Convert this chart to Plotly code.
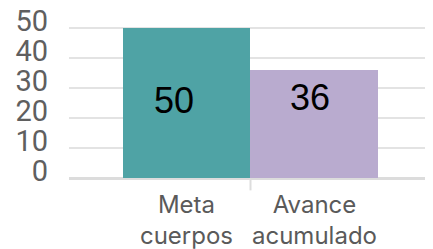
import plotly.graph_objects as go

categories = ["Meta<br>cuerpos", "Avance<br>acumulado"]
values = [50, 36]
bar_colors = ["#4fa3a5", "#b9abcf"]
y_ticks = [0, 10, 20, 30, 40, 50]

fig = go.Figure()
fig.add_trace(go.Bar(
    x=categories, y=values,
    marker=dict(color=bar_colors, line=dict(width=0)),
    hoverinfo="skip",
))

label_shift = [-12, -4]
label_y = [25.8, 26.8]
for c, v, dx, ly in zip(categories, values, label_shift, label_y):
    fig.add_annotation(x=c, y=ly, text=str(v), showarrow=False, xshift=dx,
                       font=dict(family="Liberation Sans", size=36, color="#000000"))

fig.add_shape(type="line", xref="x", yref="paper", x0=0.5, x1=0.5, y0=0, y1=-0.075,
              line=dict(color="#dddddd", width=2))

fig.update_layout(
    width=425, height=241,
    margin=dict(l=61, r=0, t=5, b=71, pad=0),
    paper_bgcolor="white", plot_bgcolor="white",
    bargap=0, showlegend=False,
    xaxis=dict(range=[-0.918, 1.926], showgrid=False, zeroline=False, showline=False,
               automargin=False,
               ticks="", tickfont=dict(family="Inter", size=24, color="#5a5a5a"),
               ticklabelstandoff=10),
    yaxis=dict(range=[0, 55], tickvals=y_ticks, showgrid=True, gridcolor="#e3e3e3", gridwidth=2,
               automargin=False, ticklabeloverflow="allow",
               zeroline=True, zerolinecolor="#dcdcdc", zerolinewidth=3, showline=False,
               ticks="", tickfont=dict(family="Roboto", size=29, color="#5f5f5f"),
               ticklabelstandoff=20, ticklabelshift=-7),
)

fig.write_html("out.html")
